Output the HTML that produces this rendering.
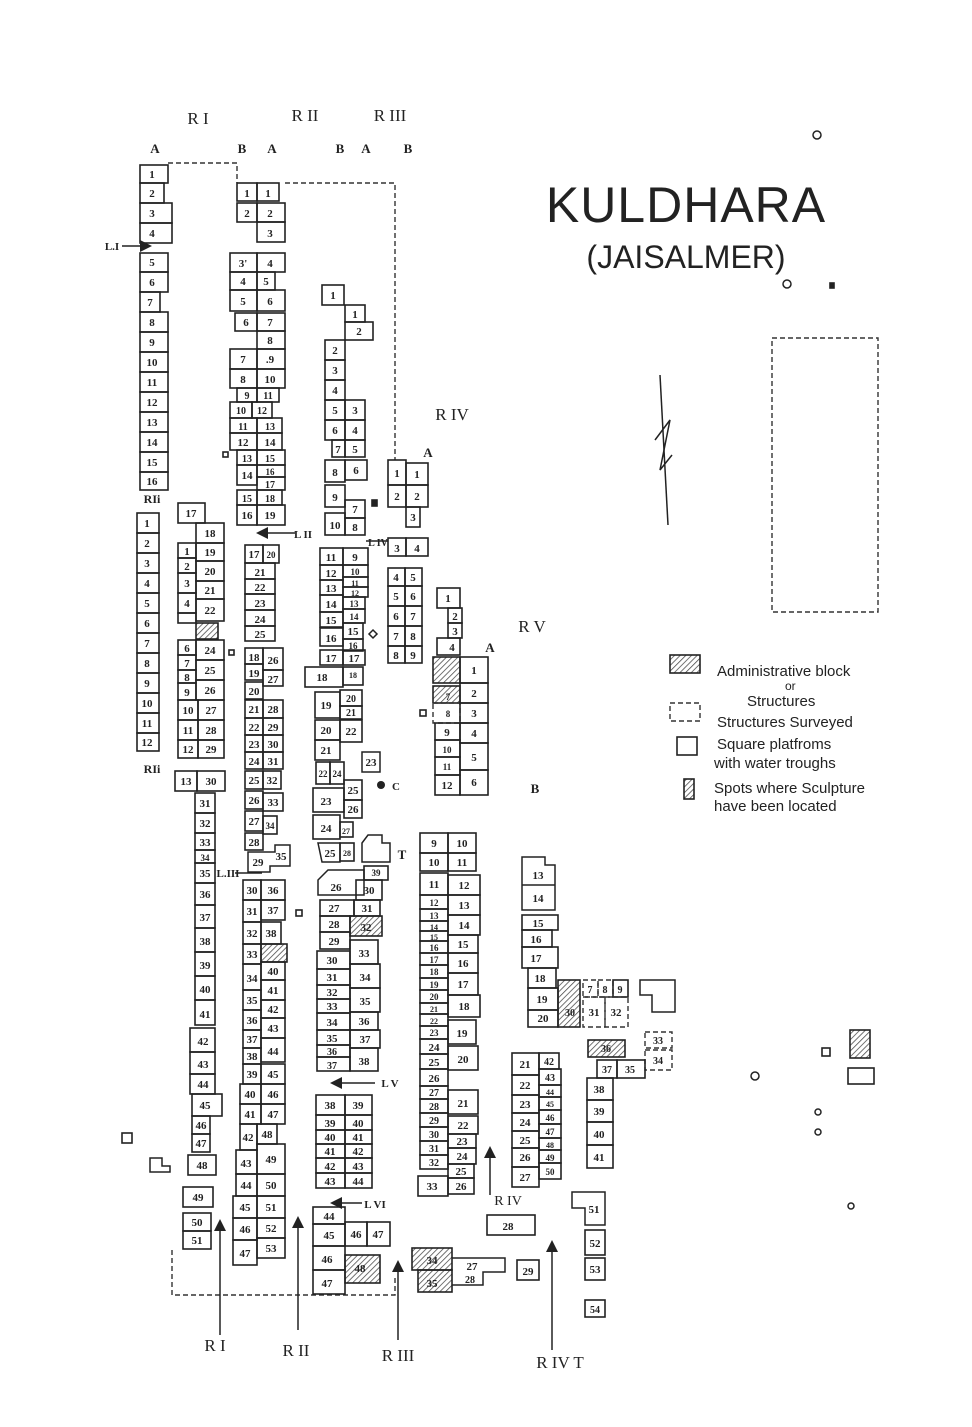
<!DOCTYPE html>
<html><head><meta charset="utf-8"><style>
html,body{margin:0;padding:0;background:#fff;}
svg{display:block}
rect{fill:none;stroke:#222;stroke-width:1.6}
text{font-family:"Liberation Serif",serif;font-size:11px;fill:#222;text-anchor:middle;font-weight:bold}
.h{fill:url(#hatch)}
.d{fill:none;stroke:#333;stroke-width:1.4;stroke-dasharray:5 3}
.l{stroke:#222;stroke-width:1.5;fill:none}
.lab{font-size:17px;font-weight:normal}
.lg{font-family:"Liberation Sans",sans-serif;font-size:15px;font-weight:normal;text-anchor:start}
</style></head><body>
<svg width="972" height="1427" viewBox="0 0 972 1427">
<defs><pattern id="hatch" width="4" height="4" patternUnits="userSpaceOnUse" patternTransform="rotate(45)"><line x1="0" y1="0" x2="0" y2="4" stroke="#444" stroke-width="1.5"/></pattern>
<marker id="ar" markerWidth="8" markerHeight="8" refX="4" refY="4" orient="auto"><path d="M0,0 L8,4 L0,8z" fill="#222"/></marker></defs>

<!-- title -->
<text x="686" y="222" style="font-family:'Liberation Sans',sans-serif;font-size:50px;font-weight:normal;letter-spacing:1px">KULDHARA</text>
<text x="686" y="268" style="font-family:'Liberation Sans',sans-serif;font-size:32px;font-weight:normal">(JAISALMER)</text>
<circle cx="817" cy="135" r="4" class="l"/><circle cx="787" cy="284" r="4" class="l"/><rect x="830" y="283" width="4" height="5" style="fill:#222"/>

<!-- top labels -->
<text class="lab" x="198" y="124">R I</text><text class="lab" x="305" y="121">R II</text><text class="lab" x="390" y="121">R III</text>
<text x="155" y="153" style="font-size:13px">A</text><text x="242" y="153" style="font-size:13px">B</text><text x="272" y="153" style="font-size:13px">A</text>
<text x="340" y="153" style="font-size:13px">B</text><text x="366" y="153" style="font-size:13px">A</text><text x="408" y="153" style="font-size:13px">B</text>
<text class="lab" x="452" y="420">R IV</text><text class="lab" x="532" y="632">R V</text>
<text x="428" y="457" style="font-size:13px">A</text><text x="490" y="652" style="font-size:13px">A</text><text x="535" y="793" style="font-size:13px">B</text>
<text x="112" y="250" style="font-size:11px">L.I</text><line x1="122" y1="246" x2="146" y2="246" class="l" marker-end="url(#ar)"/>

<!-- dashed outlines -->
<path class="d" d="M168,163 H237 V183"/>
<path class="d" d="M285,183 H395 V460"/>
<path class="d" d="M172,1250 V1295 H395 V1275"/>
<rect x="772" y="338" width="106" height="274" class="d"/>

<!-- north arrow -->
<line x1="660" y1="375" x2="668" y2="525" class="l"/><path d="M655,440 L670,420 L660,470 L672,455" class="l"/>

<!-- Col RI A -->
<g>
<rect x="140" y="165" width="28" height="18"/><text x="152" y="178">1</text>
<rect x="140" y="183" width="24" height="20"/><text x="152" y="197">2</text>
<rect x="140" y="203" width="32" height="20"/><text x="152" y="217">3</text>
<rect x="140" y="223" width="32" height="20"/><text x="152" y="237">4</text>
<rect x="140" y="253" width="28" height="19"/><text x="152" y="266">5</text>
<rect x="140" y="272" width="28" height="20"/><text x="152" y="286">6</text>
<rect x="140" y="292" width="20" height="20"/><text x="150" y="306">7</text>
<rect x="140" y="312" width="28" height="20"/><text x="152" y="326">8</text>
<rect x="140" y="332" width="28" height="20"/><text x="152" y="346">9</text>
<rect x="140" y="352" width="28" height="20"/><text x="152" y="366">10</text>
<rect x="140" y="372" width="28" height="20"/><text x="152" y="386">11</text>
<rect x="140" y="392" width="28" height="20"/><text x="152" y="406">12</text>
<rect x="140" y="412" width="28" height="20"/><text x="152" y="426">13</text>
<rect x="140" y="432" width="28" height="20"/><text x="152" y="446">14</text>
<rect x="140" y="452" width="28" height="20"/><text x="152" y="466">15</text>
<rect x="140" y="472" width="28" height="18"/><text x="152" y="485">16</text>
</g>
<text x="152" y="503" style="font-size:12px">RIi</text>
<!-- RIi -->
<g>
<rect x="137" y="513" width="22" height="20"/><text x="147" y="527">1</text>
<rect x="137" y="533" width="22" height="20"/><text x="147" y="547">2</text>
<rect x="137" y="553" width="22" height="20"/><text x="147" y="567">3</text>
<rect x="137" y="573" width="22" height="20"/><text x="147" y="587">4</text>
<rect x="137" y="593" width="22" height="20"/><text x="147" y="607">5</text>
<rect x="137" y="613" width="22" height="20"/><text x="147" y="627">6</text>
<rect x="137" y="633" width="22" height="20"/><text x="147" y="647">7</text>
<rect x="137" y="653" width="22" height="20"/><text x="147" y="667">8</text>
<rect x="137" y="673" width="22" height="20"/><text x="147" y="687">9</text>
<rect x="137" y="693" width="22" height="20"/><text x="147" y="707">10</text>
<rect x="137" y="713" width="22" height="20"/><text x="147" y="727">11</text>
<rect x="137" y="733" width="22" height="18"/><text x="147" y="746">12</text>
</g>
<text x="152" y="773" style="font-size:12px">RIi</text>
<!-- RI B upper -->
<g>
<rect x="178" y="503" width="27" height="20"/><text x="191" y="517">17</text>
<rect x="196" y="523" width="28" height="20"/><text x="210" y="537">18</text>
<rect x="178" y="543" width="18" height="15"/><text x="187" y="555">1</text><rect x="196" y="543" width="28" height="18"/><text x="210" y="556">19</text>
<rect x="178" y="558" width="18" height="15"/><text x="187" y="570">2</text><rect x="196" y="561" width="28" height="20"/><text x="210" y="575">20</text>
<rect x="178" y="573" width="18" height="20"/><text x="187" y="587">3</text><rect x="196" y="581" width="28" height="18"/><text x="210" y="594">21</text>
<rect x="178" y="593" width="18" height="20"/><text x="187" y="607">4</text><rect x="196" y="599" width="28" height="22"/><text x="210" y="614">22</text>
<rect x="178" y="613" width="18" height="10"/><rect x="196" y="623" width="22" height="16" class="h"/>
<rect x="178" y="640" width="18" height="15"/><text x="187" y="652">6</text><rect x="196" y="640" width="28" height="20"/><text x="210" y="654">24</text>
<rect x="178" y="655" width="18" height="15"/><text x="187" y="667">7</text><rect x="196" y="660" width="28" height="20"/><text x="210" y="674">25</text>
<rect x="178" y="670" width="18" height="13"/><text x="187" y="681">8</text>
<rect x="178" y="683" width="18" height="17"/><text x="187" y="696">9</text><rect x="196" y="680" width="28" height="20"/><text x="210" y="694">26</text>
<rect x="178" y="700" width="20" height="20"/><text x="188" y="714">10</text><rect x="198" y="700" width="26" height="20"/><text x="211" y="714">27</text>
<rect x="178" y="720" width="20" height="20"/><text x="188" y="734">11</text><rect x="198" y="720" width="26" height="20"/><text x="211" y="734">28</text>
<rect x="178" y="740" width="20" height="18"/><text x="188" y="753">12</text><rect x="198" y="740" width="26" height="18"/><text x="211" y="753">29</text>
<rect x="175" y="771" width="22" height="20"/><text x="186" y="785">13</text><rect x="197" y="771" width="28" height="20"/><text x="211" y="785">30</text>
</g>
<!-- RI lower column -->
<g>
<rect x="195" y="793" width="20" height="20"/><text x="205" y="807">31</text>
<rect x="195" y="813" width="20" height="20"/><text x="205" y="827">32</text>
<rect x="195" y="833" width="20" height="17"/><text x="205" y="846">33</text>
<rect x="195" y="850" width="20" height="13"/><text x="205" y="861" style="font-size:9px">34</text>
<rect x="195" y="863" width="20" height="20"/><text x="205" y="877">35</text>
<rect x="195" y="883" width="20" height="22"/><text x="205" y="898">36</text>
<rect x="195" y="905" width="20" height="23"/><text x="205" y="921">37</text>
<rect x="195" y="928" width="20" height="24"/><text x="205" y="945">38</text>
<rect x="195" y="952" width="20" height="24"/><text x="205" y="969">39</text>
<rect x="195" y="976" width="20" height="24"/><text x="205" y="993">40</text>
<rect x="195" y="1000" width="20" height="25"/><text x="205" y="1018">41</text>
<rect x="190" y="1028" width="25" height="24"/><text x="203" y="1045">42</text>
<rect x="190" y="1052" width="25" height="22"/><text x="203" y="1068">43</text>
<rect x="190" y="1074" width="25" height="20"/><text x="203" y="1088">44</text>
<rect x="192" y="1094" width="30" height="22"/><text x="205" y="1109">45</text>
<rect x="192" y="1116" width="18" height="18"/><text x="201" y="1129">46</text>
<rect x="192" y="1134" width="18" height="18"/><text x="201" y="1147">47</text>
<rect x="188" y="1155" width="28" height="20"/><text x="202" y="1169">48</text>
<rect x="183" y="1187" width="30" height="20"/><text x="198" y="1201">49</text>
<rect x="183" y="1213" width="28" height="18"/><text x="197" y="1226">50</text>
<rect x="183" y="1231" width="28" height="18"/><text x="197" y="1244">51</text>
</g>
<text x="228" y="877" style="font-size:11px">L.III</text><line x1="235" y1="873" x2="262" y2="873" class="l"/>
<rect x="122" y="1133" width="10" height="10"/>
<path class="l" d="M150,1158 H162 V1166 H170 V1172 H150Z"/>

<!-- RII B top -->
<g>
<rect x="237" y="183" width="20" height="18"/><text x="247" y="197">1</text><rect x="257" y="183" width="22" height="18"/><text x="268" y="197">1</text>
<rect x="237" y="203" width="20" height="19"/><text x="247" y="217">2</text><rect x="257" y="203" width="28" height="19"/><text x="270" y="217">2</text>
<rect x="257" y="222" width="28" height="20"/><text x="270" y="237">3</text>
<rect x="230" y="253" width="27" height="19"/><text x="243" y="267">3'</text><rect x="257" y="253" width="28" height="19"/><text x="270" y="267">4</text>
<rect x="230" y="272" width="27" height="18"/><text x="243" y="285">4</text><rect x="257" y="272" width="18" height="18"/><text x="266" y="285">5</text>
<rect x="230" y="290" width="27" height="21"/><text x="243" y="305">5</text><rect x="257" y="290" width="28" height="21"/><text x="270" y="305">6</text>
<rect x="235" y="313" width="22" height="18"/><text x="246" y="326">6</text><rect x="257" y="313" width="28" height="18"/><text x="270" y="326">7</text>
<rect x="257" y="331" width="28" height="18"/><text x="270" y="344">8</text>
<rect x="230" y="349" width="27" height="20"/><text x="243" y="363">7</text><rect x="257" y="349" width="28" height="20"/><text x="270" y="363">.9</text>
<rect x="230" y="369" width="27" height="19"/><text x="243" y="383">8</text><rect x="257" y="369" width="28" height="19"/><text x="270" y="383">10</text>
<rect x="237" y="388" width="20" height="14"/><text x="247" y="399" style="font-size:10px">9</text><rect x="257" y="388" width="22" height="14"/><text x="268" y="399" style="font-size:10px">11</text>
<rect x="230" y="402" width="22" height="16"/><text x="241" y="414" style="font-size:10px">10</text><rect x="252" y="402" width="20" height="16"/><text x="262" y="414" style="font-size:10px">12</text>
<rect x="230" y="418" width="27" height="15"/><text x="243" y="430" style="font-size:10px">11</text><rect x="257" y="418" width="25" height="15"/><text x="270" y="430" style="font-size:10px">13</text>
<rect x="230" y="433" width="27" height="17"/><text x="243" y="446">12</text><rect x="257" y="433" width="25" height="17"/><text x="270" y="446">14</text>
<rect x="237" y="450" width="20" height="15"/><text x="247" y="462" style="font-size:10px">13</text><rect x="257" y="450" width="28" height="15"/><text x="270" y="462" style="font-size:10px">15</text>
<rect x="237" y="465" width="20" height="20"/><text x="247" y="479">14</text><rect x="257" y="465" width="28" height="12"/><text x="270" y="475" style="font-size:9px">16</text>
<rect x="257" y="477" width="28" height="13"/><text x="270" y="488" style="font-size:10px">17</text>
<rect x="237" y="490" width="20" height="15"/><text x="247" y="502" style="font-size:10px">15</text><rect x="257" y="490" width="25" height="15"/><text x="270" y="502" style="font-size:10px">18</text>
<rect x="237" y="505" width="20" height="20"/><text x="247" y="519">16</text><rect x="257" y="505" width="28" height="20"/><text x="270" y="519">19</text>
</g>
<rect x="223" y="452" width="5" height="5"/>
<text x="303" y="538" style="font-size:11px">L II</text><line x1="295" y1="533" x2="262" y2="533" class="l" marker-end="url(#ar)"/>
<!-- RII lower -->
<g>
<rect x="245" y="545" width="18" height="18"/><text x="254" y="558">17</text><rect x="263" y="545" width="16" height="18"/><text x="271" y="558" style="font-size:9px">20</text>
<rect x="245" y="563" width="30" height="16"/><text x="260" y="576">21</text>
<rect x="245" y="579" width="30" height="15"/><text x="260" y="591">22</text>
<rect x="245" y="594" width="30" height="16"/><text x="260" y="607">23</text>
<rect x="245" y="610" width="30" height="16"/><text x="260" y="623">24</text>
<rect x="245" y="626" width="30" height="15"/><text x="260" y="638">25</text>
<rect x="245" y="648" width="18" height="16"/><text x="254" y="661">18</text><rect x="263" y="648" width="20" height="22"/><text x="273" y="664">26</text>
<rect x="245" y="664" width="18" height="16"/><text x="254" y="677">19</text><rect x="263" y="670" width="20" height="16"/><text x="273" y="683">27</text>
<rect x="245" y="682" width="18" height="17"/><text x="254" y="695">20</text>
<rect x="245" y="700" width="18" height="18"/><text x="254" y="713">21</text><rect x="263" y="700" width="20" height="18"/><text x="273" y="713">28</text>
<rect x="245" y="718" width="18" height="17"/><text x="254" y="731">22</text><rect x="263" y="718" width="20" height="17"/><text x="273" y="731">29</text>
<rect x="245" y="735" width="18" height="17"/><text x="254" y="748">23</text><rect x="263" y="735" width="20" height="17"/><text x="273" y="748">30</text>
<rect x="245" y="752" width="18" height="17"/><text x="254" y="765">24</text><rect x="263" y="752" width="20" height="17"/><text x="273" y="765">31</text>
<rect x="245" y="771" width="18" height="18"/><text x="254" y="784">25</text><rect x="263" y="771" width="18" height="18"/><text x="272" y="784">32</text>
<rect x="245" y="791" width="18" height="18"/><text x="254" y="804">26</text><rect x="263" y="793" width="20" height="18"/><text x="273" y="806">33</text>
<rect x="245" y="811" width="18" height="20"/><text x="254" y="825">27</text><rect x="263" y="816" width="14" height="18"/><text x="270" y="829" style="font-size:9px">34</text>
<rect x="245" y="833" width="18" height="17"/><text x="254" y="846">28</text>
<path class="l" d="M248,852 H275 V845 H290 V866 H270 V872 H248Z"/><text x="258" y="866">29</text><text x="281" y="860">35</text>
<rect x="243" y="880" width="18" height="20"/><text x="252" y="894">30</text><rect x="261" y="880" width="24" height="20"/><text x="273" y="894">36</text>
<rect x="243" y="900" width="18" height="22"/><text x="252" y="915">31</text><rect x="261" y="900" width="24" height="20"/><text x="273" y="914">37</text>
<rect x="243" y="922" width="18" height="22"/><text x="252" y="937">32</text><rect x="261" y="922" width="20" height="22"/><text x="271" y="937">38</text>
<rect x="243" y="944" width="18" height="20"/><text x="252" y="958">33</text><rect x="261" y="944" width="26" height="18" class="h"/>
<rect x="243" y="964" width="18" height="26"/><text x="252" y="982">34</text><rect x="261" y="962" width="24" height="18"/><text x="273" y="975">40</text>
<rect x="261" y="980" width="24" height="20"/><text x="273" y="994">41</text>
<rect x="243" y="990" width="18" height="20"/><text x="252" y="1004">35</text><rect x="261" y="1000" width="24" height="18"/><text x="273" y="1013">42</text>
<rect x="243" y="1010" width="18" height="20"/><text x="252" y="1024">36</text><rect x="261" y="1018" width="24" height="20"/><text x="273" y="1032">43</text>
<rect x="243" y="1030" width="18" height="18"/><text x="252" y="1043">37</text><rect x="261" y="1038" width="24" height="24"/><text x="273" y="1055">44</text>
<rect x="243" y="1048" width="18" height="16"/><text x="252" y="1060">38</text>
<rect x="243" y="1064" width="18" height="20"/><text x="252" y="1078">39</text><rect x="261" y="1064" width="24" height="20"/><text x="273" y="1078">45</text>
<rect x="240" y="1084" width="21" height="20"/><text x="250" y="1098">40</text><rect x="261" y="1084" width="24" height="20"/><text x="273" y="1098">46</text>
<rect x="240" y="1104" width="21" height="20"/><text x="250" y="1118">41</text><rect x="261" y="1104" width="24" height="20"/><text x="273" y="1118">47</text>
<rect x="240" y="1124" width="17" height="26"/><text x="248" y="1141">42</text><rect x="257" y="1124" width="20" height="20"/><text x="267" y="1138">48</text>
<rect x="257" y="1144" width="28" height="30"/><text x="271" y="1163">49</text>
<rect x="236" y="1150" width="21" height="24"/><text x="246" y="1167">43</text>
<rect x="236" y="1174" width="21" height="22"/><text x="246" y="1189">44</text><rect x="257" y="1174" width="28" height="22"/><text x="271" y="1189">50</text>
<rect x="233" y="1196" width="24" height="22"/><text x="245" y="1211">45</text><rect x="257" y="1196" width="28" height="22"/><text x="271" y="1211">51</text>
<rect x="233" y="1218" width="24" height="22"/><text x="245" y="1233">46</text><rect x="257" y="1218" width="28" height="20"/><text x="271" y="1232">52</text>
<rect x="233" y="1240" width="24" height="25"/><text x="245" y="1257">47</text><rect x="257" y="1238" width="28" height="20"/><text x="271" y="1252">53</text>
</g>
<rect x="296" y="910" width="6" height="6"/>
<rect x="229" y="650" width="5" height="5"/>

<!-- RIII A upper -->
<g>
<rect x="322" y="285" width="22" height="20"/><text x="333" y="299">1</text>
<rect x="345" y="305" width="20" height="17"/><text x="355" y="318">1</text>
<rect x="345" y="322" width="28" height="18"/><text x="359" y="335">2</text>
<rect x="325" y="340" width="20" height="20"/><text x="335" y="354">2</text>
<rect x="325" y="360" width="20" height="20"/><text x="335" y="374">3</text>
<rect x="325" y="380" width="20" height="20"/><text x="335" y="394">4</text>
<rect x="325" y="400" width="20" height="20"/><text x="335" y="414">5</text><rect x="345" y="400" width="20" height="20"/><text x="355" y="414">3</text>
<rect x="325" y="420" width="20" height="20"/><text x="335" y="434">6</text><rect x="345" y="420" width="20" height="20"/><text x="355" y="434">4</text>
<rect x="332" y="440" width="13" height="17"/><text x="338" y="453">7</text><rect x="345" y="440" width="20" height="17"/><text x="355" y="453">5</text>
<rect x="325" y="460" width="20" height="22"/><text x="335" y="476">8</text><rect x="345" y="460" width="22" height="20"/><text x="356" y="474">6</text>
<rect x="325" y="485" width="20" height="22"/><text x="335" y="501">9</text><rect x="345" y="500" width="20" height="18"/><text x="355" y="513">7</text>
<rect x="325" y="513" width="20" height="22"/><text x="335" y="529">10</text><rect x="345" y="518" width="20" height="17"/><text x="355" y="531">8</text>
</g>
<rect x="372" y="500" width="5" height="6" style="fill:#222"/>
<text x="378" y="546" style="font-size:10px">L IV</text><line x1="388" y1="541" x2="366" y2="541" class="l"/>
<!-- RIII A lower -->
<g>
<rect x="320" y="548" width="23" height="17"/><text x="331" y="561">11</text><rect x="343" y="548" width="25" height="17"/><text x="355" y="561">9</text>
<rect x="320" y="565" width="23" height="15"/><text x="331" y="577">12</text><rect x="343" y="565" width="25" height="12"/><text x="355" y="575" style="font-size:9px">10</text>
<rect x="343" y="577" width="25" height="10"/><text x="355" y="586" style="font-size:8px">11</text>
<rect x="320" y="580" width="23" height="15"/><text x="331" y="592">13</text><rect x="343" y="587" width="25" height="10"/><text x="355" y="596" style="font-size:8px">12</text>
<rect x="320" y="595" width="23" height="17"/><text x="331" y="608">14</text><rect x="343" y="597" width="22" height="12"/><text x="354" y="607" style="font-size:9px">13</text>
<rect x="320" y="612" width="23" height="15"/><text x="331" y="624">15</text><rect x="343" y="609" width="22" height="14"/><text x="354" y="620" style="font-size:9px">14</text>
<rect x="320" y="628" width="23" height="18"/><text x="331" y="642">16</text><rect x="343" y="623" width="20" height="16"/><text x="353" y="635">15</text>
<rect x="343" y="639" width="20" height="12"/><text x="353" y="649" style="font-size:9px">16</text>
<rect x="320" y="650" width="23" height="15"/><text x="331" y="662">17</text><rect x="343" y="650" width="22" height="15"/><text x="354" y="662">17</text>
<rect x="305" y="667" width="38" height="20"/><text x="322" y="681">18</text><rect x="343" y="667" width="20" height="18"/><text x="353" y="678" style="font-size:8px">18</text>
<rect x="315" y="692" width="25" height="26"/><text x="326" y="709">19</text><rect x="340" y="690" width="22" height="16"/><text x="351" y="702" style="font-size:10px">20</text>
<rect x="340" y="706" width="22" height="13"/><text x="351" y="716" style="font-size:10px">21</text>
<rect x="315" y="720" width="25" height="20"/><text x="326" y="734">20</text><rect x="340" y="720" width="22" height="22"/><text x="351" y="735">22</text>
<rect x="315" y="740" width="25" height="20"/><text x="326" y="754">21</text>
<path class="l" d="M362,752 H380 V772 H362Z"/><text x="371" y="766">23</text>
<rect x="316" y="762" width="14" height="22"/><text x="323" y="777" style="font-size:9px">22</text><rect x="330" y="762" width="14" height="22"/><text x="337" y="777" style="font-size:9px">24</text>
<rect x="344" y="780" width="18" height="20"/><text x="353" y="794">25</text>
<rect x="313" y="788" width="31" height="24"/><text x="326" y="805">23</text><rect x="344" y="800" width="18" height="18"/><text x="353" y="813">26</text>
<rect x="313" y="815" width="27" height="24"/><text x="326" y="832">24</text><rect x="340" y="822" width="13" height="15"/><text x="346" y="834" style="font-size:8px">27</text>
<path class="l" d="M318,843 H340 V862 H322Z"/><text x="330" y="857">25</text><rect x="340" y="843" width="14" height="18"/><text x="347" y="856" style="font-size:8px">28</text>
<path class="l h" d="M362,843 L368,835 H382 V843 H390 V862 H362Z"/><text x="402" y="859" style="font-size:13px">T</text>
<path class="l" d="M318,880 L328,870 H364 V895 H318Z"/>
<rect x="364" y="866" width="24" height="14"/><text x="376" y="876" style="font-size:9px">39</text>
<text x="336" y="891">26</text><rect x="356" y="880" width="26" height="20"/><text x="369" y="894">30</text>
<rect x="320" y="900" width="34" height="16"/><text x="334" y="912">27</text><rect x="354" y="900" width="26" height="16"/><text x="367" y="912">31</text>
<rect x="320" y="916" width="30" height="16"/><text x="334" y="928">28</text><rect x="350" y="916" width="32" height="20" class="h"/><text x="366" y="931">32</text>
<rect x="320" y="932" width="30" height="17"/><text x="334" y="945">29</text>
<rect x="350" y="940" width="28" height="24"/><text x="364" y="957">33</text>
<rect x="317" y="951" width="33" height="18"/><text x="332" y="964">30</text>
<rect x="317" y="969" width="33" height="16"/><text x="332" y="981">31</text><rect x="350" y="964" width="30" height="24"/><text x="365" y="981">34</text>
<rect x="317" y="985" width="33" height="14"/><text x="332" y="996">32</text>
<rect x="317" y="999" width="33" height="14"/><text x="332" y="1010">33</text><rect x="350" y="988" width="30" height="24"/><text x="365" y="1005">35</text>
<rect x="317" y="1013" width="33" height="17"/><text x="332" y="1026">34</text><rect x="350" y="1012" width="28" height="18"/><text x="364" y="1025">36</text>
<rect x="317" y="1030" width="33" height="15"/><text x="332" y="1042">35</text><rect x="350" y="1030" width="30" height="18"/><text x="365" y="1043">37</text>
<rect x="317" y="1045" width="33" height="12"/><text x="332" y="1055" style="font-size:10px">36</text>
<rect x="317" y="1057" width="33" height="14"/><text x="332" y="1069" style="font-size:10px">37</text><rect x="350" y="1048" width="28" height="23"/><text x="364" y="1065">38</text>
</g>
<text x="390" y="1087" style="font-size:11px">L V</text><line x1="375" y1="1083" x2="336" y2="1083" class="l" marker-end="url(#ar)"/>
<g>
<rect x="316" y="1095" width="29" height="20"/><text x="330" y="1109">38</text><rect x="345" y="1095" width="27" height="20"/><text x="358" y="1109">39</text>
<rect x="316" y="1115" width="29" height="15"/><text x="330" y="1127">39</text><rect x="345" y="1115" width="27" height="15"/><text x="358" y="1127">40</text>
<rect x="316" y="1130" width="29" height="14"/><text x="330" y="1141">40</text><rect x="345" y="1130" width="27" height="14"/><text x="358" y="1141">41</text>
<rect x="316" y="1144" width="29" height="14"/><text x="330" y="1155">41</text><rect x="345" y="1144" width="27" height="14"/><text x="358" y="1155">42</text>
<rect x="316" y="1158" width="29" height="15"/><text x="330" y="1170">42</text><rect x="345" y="1158" width="27" height="15"/><text x="358" y="1170">43</text>
<rect x="316" y="1173" width="29" height="15"/><text x="330" y="1185">43</text><rect x="345" y="1173" width="27" height="15"/><text x="358" y="1185">44</text>
</g>
<text x="375" y="1208" style="font-size:11px">L VI</text><line x1="362" y1="1203" x2="336" y2="1203" class="l" marker-end="url(#ar)"/>
<g>
<rect x="313" y="1207" width="32" height="17"/><text x="329" y="1220">44</text>
<rect x="313" y="1224" width="32" height="22"/><text x="329" y="1239">45</text><rect x="345" y="1222" width="22" height="24"/><text x="356" y="1238">46</text><rect x="367" y="1222" width="23" height="24"/><text x="378" y="1238">47</text>
<rect x="313" y="1246" width="32" height="24"/><text x="327" y="1263">46</text><rect x="345" y="1255" width="35" height="28" class="h"/><text x="360" y="1272">48</text>
<rect x="313" y="1270" width="32" height="24"/><text x="327" y="1287">47</text>
</g>
<!-- RIII B -->
<g>
<rect x="388" y="460" width="18" height="25"/><text x="397" y="477">1</text><rect x="406" y="463" width="22" height="22"/><text x="417" y="478">1</text>
<rect x="388" y="485" width="18" height="22"/><text x="397" y="500">2</text><rect x="406" y="485" width="22" height="22"/><text x="417" y="500">2</text>
<rect x="406" y="507" width="14" height="20"/><text x="413" y="521">3</text>
<rect x="388" y="538" width="18" height="18"/><text x="397" y="552">3</text><rect x="406" y="538" width="22" height="18"/><text x="417" y="552">4</text>
<rect x="388" y="568" width="17" height="18"/><text x="396" y="581">4</text><rect x="405" y="568" width="17" height="18"/><text x="413" y="581">5</text>
<rect x="388" y="586" width="17" height="20"/><text x="396" y="600">5</text><rect x="405" y="586" width="17" height="20"/><text x="413" y="600">6</text>
<rect x="388" y="606" width="17" height="20"/><text x="396" y="620">6</text><rect x="405" y="606" width="17" height="20"/><text x="413" y="620">7</text>
<rect x="388" y="626" width="17" height="20"/><text x="396" y="640">7</text><rect x="405" y="626" width="17" height="20"/><text x="413" y="640">8</text>
<rect x="388" y="646" width="17" height="17"/><text x="396" y="659">8</text><rect x="405" y="646" width="17" height="17"/><text x="413" y="659">9</text>
</g>
<!-- RIV A -->
<g>
<rect x="437" y="588" width="23" height="20"/><text x="448" y="602">1</text>
<rect x="448" y="608" width="14" height="15"/><text x="455" y="620">2</text>
<rect x="448" y="623" width="14" height="15"/><text x="455" y="635">3</text>
<rect x="437" y="638" width="23" height="17"/><text x="452" y="651">4</text>
<rect x="433" y="657" width="27" height="26" class="h"/>
<rect x="460" y="657" width="28" height="26"/><text x="474" y="674">1</text>
<rect x="433" y="686" width="27" height="17" class="h"/><text x="448" y="700" style="font-size:9px">7</text><rect x="460" y="683" width="28" height="20"/><text x="474" y="697">2</text>
<rect x="433" y="703" width="27" height="20" class="d"/><text x="448" y="717" style="font-size:9px">8</text><rect x="460" y="703" width="28" height="20"/><text x="474" y="717">3</text>
<rect x="435" y="723" width="25" height="17"/><text x="447" y="736">9</text><rect x="460" y="723" width="28" height="20"/><text x="474" y="737">4</text>
<rect x="435" y="740" width="25" height="17"/><text x="447" y="753" style="font-size:9px">10</text><rect x="460" y="743" width="28" height="27"/><text x="474" y="761">5</text>
<rect x="435" y="757" width="25" height="18"/><text x="447" y="770" style="font-size:9px">11</text>
<rect x="435" y="775" width="25" height="20"/><text x="447" y="789">12</text><rect x="460" y="770" width="28" height="25"/><text x="474" y="786">6</text>
</g>
<rect x="420" y="710" width="6" height="6"/><circle cx="381" cy="785" r="4" style="fill:#222"/><text x="396" y="790">C</text>
<path d="M373,630 l4,4 l-4,4 l-4,-4z" class="l"/>
<!-- RIV lower pairs -->
<g>
<rect x="420" y="833" width="28" height="20"/><text x="434" y="847">9</text><rect x="448" y="833" width="28" height="20"/><text x="462" y="847">10</text>
<rect x="420" y="853" width="28" height="18"/><text x="434" y="866">10</text><rect x="448" y="853" width="28" height="18"/><text x="462" y="866">11</text>
<rect x="420" y="873" width="28" height="22"/><text x="434" y="888">11</text><rect x="448" y="875" width="32" height="20"/><text x="464" y="889">12</text>
<rect x="420" y="895" width="28" height="14"/><text x="434" y="906" style="font-size:9px">12</text><rect x="448" y="895" width="32" height="20"/><text x="464" y="909">13</text>
<rect x="420" y="909" width="28" height="12"/><text x="434" y="919" style="font-size:9px">13</text>
<rect x="420" y="921" width="28" height="10"/><text x="434" y="930" style="font-size:8px">14</text><rect x="448" y="915" width="32" height="20"/><text x="464" y="929">14</text>
<rect x="420" y="931" width="28" height="10"/><text x="434" y="940" style="font-size:8px">15</text>
<rect x="420" y="941" width="28" height="12"/><text x="434" y="951" style="font-size:9px">16</text><rect x="448" y="935" width="30" height="18"/><text x="463" y="948">15</text>
<rect x="420" y="953" width="28" height="12"/><text x="434" y="963" style="font-size:9px">17</text><rect x="448" y="953" width="30" height="20"/><text x="463" y="967">16</text>
<rect x="420" y="965" width="28" height="13"/><text x="434" y="975" style="font-size:9px">18</text>
<rect x="420" y="978" width="28" height="12"/><text x="434" y="988" style="font-size:9px">19</text><rect x="448" y="973" width="30" height="22"/><text x="463" y="988">17</text>
<rect x="420" y="990" width="28" height="13"/><text x="434" y="1000" style="font-size:9px">20</text><rect x="448" y="995" width="32" height="22"/><text x="464" y="1010">18</text>
<rect x="420" y="1003" width="28" height="11"/><text x="434" y="1012" style="font-size:8px">21</text>
<rect x="420" y="1014" width="28" height="12"/><text x="434" y="1024" style="font-size:8px">22</text>
<rect x="420" y="1026" width="28" height="13"/><text x="434" y="1036" style="font-size:9px">23</text><rect x="448" y="1020" width="28" height="24"/><text x="462" y="1037">19</text>
<rect x="420" y="1039" width="28" height="15"/><text x="434" y="1051">24</text><rect x="448" y="1046" width="30" height="24"/><text x="463" y="1063">20</text>
<rect x="420" y="1054" width="28" height="15"/><text x="434" y="1066">25</text>
<rect x="420" y="1069" width="28" height="17"/><text x="434" y="1082">26</text>
<rect x="420" y="1086" width="28" height="13"/><text x="434" y="1096" style="font-size:10px">27</text><rect x="448" y="1090" width="30" height="24"/><text x="463" y="1107">21</text>
<rect x="420" y="1099" width="28" height="14"/><text x="434" y="1110" style="font-size:10px">28</text>
<rect x="420" y="1113" width="28" height="14"/><text x="434" y="1124" style="font-size:10px">29</text><rect x="448" y="1116" width="30" height="18"/><text x="463" y="1129">22</text>
<rect x="420" y="1127" width="28" height="14"/><text x="434" y="1138" style="font-size:10px">30</text><rect x="448" y="1134" width="28" height="14"/><text x="462" y="1145">23</text>
<rect x="420" y="1141" width="28" height="14"/><text x="434" y="1152" style="font-size:10px">31</text><rect x="448" y="1148" width="28" height="16"/><text x="462" y="1160">24</text>
<rect x="420" y="1155" width="28" height="14"/><text x="434" y="1166" style="font-size:10px">32</text><rect x="448" y="1164" width="26" height="14"/><text x="461" y="1175">25</text>
<rect x="418" y="1176" width="30" height="20"/><text x="432" y="1190">33</text><rect x="448" y="1178" width="26" height="16"/><text x="461" y="1190">26</text>
</g>
<path d="M490,1195 V1152" class="l" marker-end="url(#ar)"/><text x="508" y="1205" style="font-size:14px;font-weight:normal">R IV</text>
<rect x="487" y="1215" width="48" height="20"/><text x="508" y="1230">28</text>
<rect x="412" y="1248" width="40" height="22" class="h"/><text x="432" y="1264">34</text>
<rect x="418" y="1270" width="34" height="22" class="h"/><text x="432" y="1287">35</text>
<path class="l" d="M452,1258 H505 V1272 H483 V1285 H452"/><text x="472" y="1270">27</text><text x="470" y="1283" style="font-size:10px">28</text>
<rect x="517" y="1260" width="22" height="20"/><text x="528" y="1275">29</text>
<!-- RV -->
<g>
<path class="l" d="M522,857 H545 V865 H555 V910 H522Z"/><text x="538" y="879">13</text><line x1="522" y1="885" x2="555" y2="885" class="l"/><text x="538" y="902">14</text>
<rect x="522" y="915" width="36" height="15"/><text x="538" y="927">15</text>
<rect x="522" y="930" width="30" height="17"/><text x="536" y="943">16</text>
<rect x="522" y="947" width="36" height="21"/><text x="536" y="962">17</text>
<rect x="528" y="968" width="28" height="20"/><text x="540" y="982">18</text>
<rect x="528" y="988" width="30" height="22"/><text x="542" y="1003">19</text>
<rect x="528" y="1010" width="30" height="17"/><text x="543" y="1022">20</text>
<rect x="558" y="980" width="22" height="47" class="h"/><text x="570" y="1016" style="font-size:10px">30</text>
<rect x="583" y="980" width="15" height="17" class="d"/><text x="590" y="993" style="font-size:10px">7</text><rect x="598" y="980" width="15" height="17" class="d"/><text x="605" y="993" style="font-size:10px">8</text><rect x="613" y="980" width="15" height="17"/><text x="620" y="993" style="font-size:10px">9</text>
<rect x="583" y="997" width="22" height="30" class="d"/><text x="594" y="1016">31</text><rect x="605" y="997" width="23" height="30" class="d"/><text x="616" y="1016">32</text>
<path class="l" d="M640,980 H675 V1012 H652 V995 H640Z"/>
<rect x="512" y="1053" width="27" height="22"/><text x="525" y="1068">21</text><rect x="539" y="1053" width="20" height="16"/><text x="549" y="1065" style="font-size:10px">42</text>
<rect x="512" y="1075" width="27" height="20"/><text x="525" y="1089">22</text><rect x="539" y="1069" width="22" height="16"/><text x="550" y="1081" style="font-size:10px">43</text>
<rect x="539" y="1085" width="22" height="12"/><text x="550" y="1095" style="font-size:8px">44</text>
<rect x="512" y="1095" width="27" height="18"/><text x="525" y="1108">23</text><rect x="539" y="1097" width="22" height="13"/><text x="550" y="1107" style="font-size:8px">45</text>
<rect x="512" y="1113" width="27" height="18"/><text x="525" y="1126">24</text><rect x="539" y="1110" width="22" height="14"/><text x="550" y="1121" style="font-size:9px">46</text>
<rect x="539" y="1124" width="22" height="14"/><text x="550" y="1135" style="font-size:9px">47</text>
<rect x="512" y="1131" width="27" height="17"/><text x="525" y="1144">25</text><rect x="539" y="1138" width="22" height="12"/><text x="550" y="1148" style="font-size:8px">48</text>
<rect x="512" y="1148" width="27" height="19"/><text x="525" y="1161">26</text><rect x="539" y="1150" width="22" height="13"/><text x="550" y="1161" style="font-size:9px">49</text>
<rect x="512" y="1167" width="27" height="20"/><text x="525" y="1181">27</text><rect x="539" y="1163" width="22" height="16"/><text x="550" y="1175" style="font-size:9px">50</text>
<rect x="588" y="1040" width="37" height="17" class="h"/><text x="606" y="1052" style="font-size:10px">36</text>
<rect x="645" y="1032" width="27" height="16" class="d"/><text x="658" y="1044" style="font-size:10px">33</text>
<rect x="645" y="1050" width="27" height="20" class="d"/><text x="658" y="1064" style="font-size:10px">34</text>
<rect x="597" y="1060" width="20" height="18"/><text x="607" y="1073" style="font-size:10px">37</text><rect x="617" y="1060" width="28" height="18"/><text x="630" y="1073" style="font-size:10px">35</text>
<rect x="587" y="1078" width="26" height="22"/><text x="599" y="1093">38</text>
<rect x="587" y="1100" width="26" height="22"/><text x="599" y="1115">39</text>
<rect x="587" y="1122" width="26" height="23"/><text x="599" y="1138">40</text>
<rect x="587" y="1145" width="26" height="23"/><text x="599" y="1161">41</text>
<path class="l" d="M572,1192 H605 V1225 H585 V1208 H572Z"/><text x="594" y="1213">51</text>
<rect x="585" y="1230" width="20" height="25"/><text x="595" y="1247">52</text>
<rect x="585" y="1258" width="20" height="22"/><text x="595" y="1273">53</text>
<rect x="585" y="1300" width="20" height="17"/><text x="595" y="1313" style="font-size:10px">54</text>
</g>
<!-- right small features -->
<circle cx="755" cy="1076" r="4" class="l"/><circle cx="818" cy="1112" r="3" class="l"/><circle cx="818" cy="1132" r="3" class="l"/><circle cx="851" cy="1206" r="3" class="l"/>
<rect x="822" y="1048" width="8" height="8"/><rect x="850" y="1030" width="20" height="28" class="h"/><rect x="848" y="1068" width="26" height="16"/>

<!-- legend -->
<rect x="670" y="655" width="30" height="18" class="h"/><text class="lg" x="717" y="676">Administrative block</text>
<text class="lg" x="785" y="690" style="font-size:12px">or</text>
<text class="lg" x="747" y="706">Structures</text>
<rect x="670" y="703" width="30" height="18" class="d"/><text class="lg" x="717" y="727">Structures Surveyed</text>
<rect x="677" y="737" width="20" height="18"/><text class="lg" x="717" y="749">Square platfroms</text>
<text class="lg" x="714" y="768">with water troughs</text>
<rect x="684" y="779" width="10" height="20" class="h"/><text class="lg" x="714" y="793">Spots where Sculpture</text>
<text class="lg" x="714" y="811">have been located</text>

<!-- bottom arrows & labels -->
<path d="M220,1335 V1225" class="l" marker-end="url(#ar)"/>
<path d="M298,1330 V1222" class="l" marker-end="url(#ar)"/>
<path d="M398,1340 V1266" class="l" marker-end="url(#ar)"/>
<path d="M552,1350 V1246" class="l" marker-end="url(#ar)"/>
<text class="lab" x="215" y="1351">R I</text><text class="lab" x="296" y="1356">R II</text>
<text class="lab" x="398" y="1361">R III</text><text class="lab" x="560" y="1368">R IV T</text>
</svg>
</body></html>
